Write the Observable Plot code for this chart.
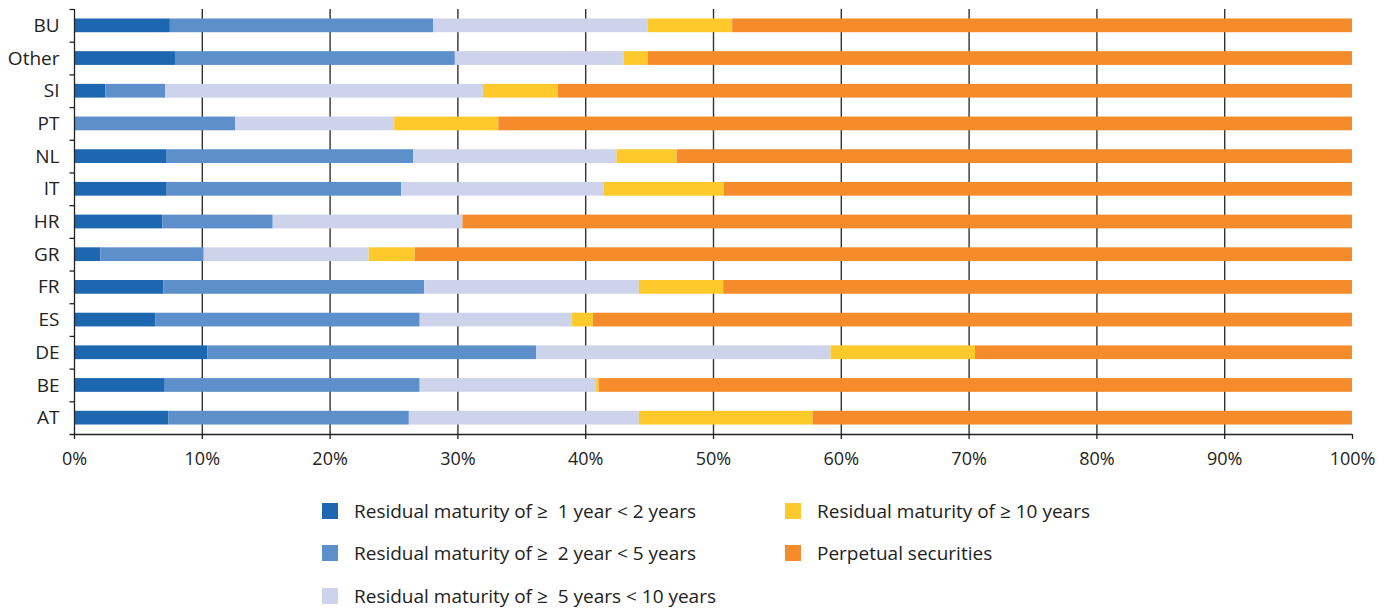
<!DOCTYPE html>
<html>
<head>
<meta charset="utf-8">
<script src="https://cdn.jsdelivr.net/npm/d3@7"></script>
<script src="https://cdn.jsdelivr.net/npm/@observablehq/plot@0.6"></script>
<style>
  html, body { margin: 0; padding: 0; background: #fff; }
  #wrap { width: 1394px; font-family: "Open Sans", sans-serif; color: #222; }
  #legend { position: relative; width: 1394px; height: 130px; }
  .item { position: absolute; display: flex; align-items: center; font-size: 19px; white-space: pre; }
  .sw { width: 16px; height: 16px; margin-right: 16px; flex: none; }
</style>
</head>
<body>
<div id="wrap">
  <div id="chart"></div>
  <div id="legend"></div>
</div>
<script>
const countries = ["BU","Other","SI","PT","NL","IT","HR","GR","FR","ES","DE","BE","AT"];
const seriesNames = [
  "Residual maturity of \u2265  1 year < 2 years",
  "Residual maturity of \u2265  2 year < 5 years",
  "Residual maturity of \u2265  5 years < 10 years",
  "Residual maturity of \u2265 10 years",
  "Perpetual securities"
];
const colors = ["#1c67b0", "#5d8fcb", "#cdd3ea", "#fdc92b", "#f68b2b"];
const s1 = [7.5, 7.9, 2.45, 0, 7.2, 7.2, 6.9, 2.05, 7.0, 6.35, 10.45, 7.1, 7.4];
const s2 = [20.6, 21.9, 4.7, 12.6, 19.35, 18.4, 8.65, 8.1, 20.4, 20.7, 25.7, 19.95, 18.8];
const s3 = [16.8, 13.2, 24.85, 12.45, 15.9, 15.85, 14.85, 12.9, 16.8, 11.9, 23.05, 13.8, 18.0];
const s4 = [6.6, 1.9, 5.85, 8.15, 4.7, 9.4, 0, 3.6, 6.6, 1.65, 11.3, 0.2, 13.6];
const s5 = [48.5, 55.1, 62.15, 66.8, 52.85, 49.15, 69.6, 73.35, 49.2, 59.4, 29.5, 58.95, 42.2];
const xTicks = [0, 10, 20, 30, 40, 50, 60, 70, 80, 90, 100];

const allSeries = [s1, s2, s3, s4, s5];
const data = [];
countries.forEach((c, i) => {
  allSeries.forEach((s, k) => data.push({country: c, series: seriesNames[k], value: s[i]}));
});

const W = 1394, H = 480, mT = 9, mB = 46, mL = 74, mR = 42;
const step = (H - mT - mB) / countries.length;
const ink = "#222";

const chart = Plot.plot({
  width: W, height: H,
  marginLeft: mL, marginRight: mR, marginTop: mT, marginBottom: mB,
  style: {fontFamily: "Open Sans, sans-serif", fontSize: "18px", color: ink, background: "white", overflow: "visible"},
  x: {domain: [0, 100]},
  y: {domain: countries, paddingInner: 0.58, paddingOuter: 0.29, round: false},
  color: {domain: seriesNames, range: colors},
  marks: [
    Plot.gridX(xTicks.slice(1, -1), {stroke: "#333", strokeOpacity: 1, strokeWidth: 1.4}),
    Plot.barX(data, {x: "value", y: "country", fill: "series", order: seriesNames}),
    Plot.ruleX([0], {stroke: ink, strokeWidth: 1.3}),
    Plot.ruleY(countries, {y: d => d, x1: () => -0.35, x2: () => 0, dy: -step / 2, stroke: ink, strokeWidth: 1.3}),
    Plot.ruleY([countries[countries.length - 1]], {y: d => d, x1: () => -0.35, x2: () => 100, dy: step / 2, stroke: ink, strokeWidth: 1.3}),
    Plot.axisX({ticks: xTicks, tickFormat: d => d + "%", tickSize: 5, tickPadding: 13, stroke: ink, strokeWidth: 1.3, fill: ink, label: null}),
    Plot.axisY({tickSize: 0, tickPadding: 15, fill: ink, fontSize: 19, label: null})
  ]
});
document.getElementById("chart").appendChild(chart);

// legend
const legendPos = [
  {left: 322, top: 31},
  {left: 322, top: 73},
  {left: 322, top: 116},
  {left: 785, top: 31},
  {left: 785, top: 73}
];
const legend = document.getElementById("legend");
seriesNames.forEach((name, k) => {
  const it = document.createElement("div");
  it.className = "item";
  it.style.left = legendPos[k].left + "px";
  it.style.top = (legendPos[k].top - 13) + "px";
  it.style.height = "26px";
  const sw = document.createElement("span");
  sw.className = "sw";
  sw.style.background = colors[k];
  const tx = document.createElement("span");
  tx.textContent = name;
  it.appendChild(sw);
  it.appendChild(tx);
  legend.appendChild(it);
});
</script>
</body>
</html>
